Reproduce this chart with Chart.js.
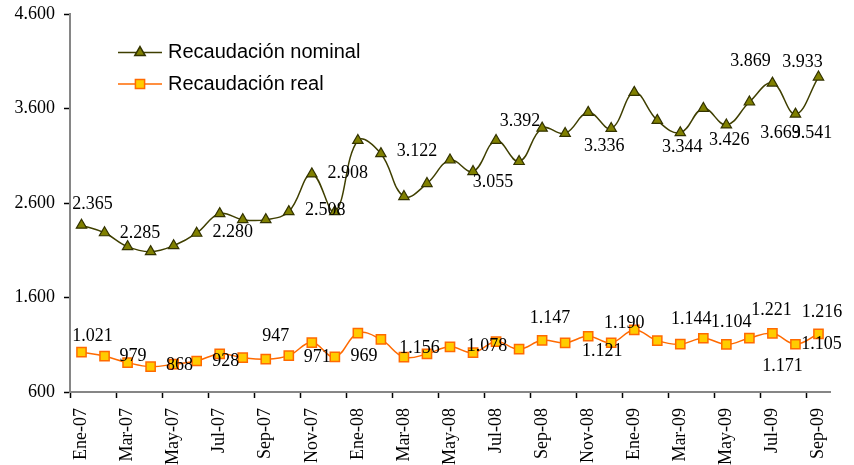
<!DOCTYPE html>
<html>
<head>
<meta charset="utf-8">
<script src="https://cdn.jsdelivr.net/npm/chart.js@4"></script>
<style>
  html, body { margin: 0; padding: 0; background: #fff; }
  #wrap { width: 854px; height: 465px; }
</style>
</head>
<body>
<div id="wrap"><canvas id="grafico" width="854" height="465"></canvas></div>
<script>
const meses = ['Ene-07', 'Feb-07', 'Mar-07', 'Abr-07', 'May-07', 'Jun-07', 'Jul-07', 'Ago-07', 'Sep-07', 'Oct-07', 'Nov-07', 'Dic-07',
    'Ene-08', 'Feb-08', 'Mar-08', 'Abr-08', 'May-08', 'Jun-08', 'Jul-08', 'Ago-08', 'Sep-08', 'Oct-08', 'Nov-08', 'Dic-08',
    'Ene-09', 'Feb-09', 'Mar-09', 'Abr-09', 'May-09', 'Jun-09', 'Jul-09', 'Ago-09', 'Sep-09'];

const nominal = [2365, 2285, 2138, 2085, 2148, 2280, 2488, 2424, 2424, 2509, 2908, 2508,
    3262, 3122, 2668, 2806, 3055, 2933, 3262, 3039, 3392, 3336, 3559, 3389,
    3771, 3474, 3344, 3601, 3426, 3669, 3869, 3541, 3933];

const real = [1021, 979, 911, 868, 894, 928, 1003, 964, 947, 985, 1123, 971,
    1222, 1156, 969, 1003, 1078, 1017, 1133, 1053, 1147, 1120, 1190, 1121,
    1257, 1144, 1106, 1169, 1104, 1171, 1221, 1105, 1216];

const ticksY = [600, 1600, 2600, 3600, 4600];

// puntos que llevan etiqueta de valor
const etiquetasNominal = [0, 1, 5, 10, 11, 13, 16, 20, 21, 26, 28, 29, 30, 31, 32];
const etiquetasReal = [0, 1, 3, 5, 8, 11, 13, 14, 16, 20, 22, 23, 25, 28, 29, 30, 31, 32];

// desplazamiento de cada etiqueta respecto a su punto (px)
const despNominal = [[11, -21], [35.5, 0], [36, -1], [36, -1], [-9.5, -1], [36, -2], [43, 22], [-22, -7],
    [39, 13], [2, 15], [3, 15], [31, 31], [-22, -22], [16.5, 19], [-16, -15]];
const despReal = [[11, -16], [28.5, 0], [29, -1], [29, 0], [10, -23], [-17.5, 0], [38.5, 9], [-40, -1],
    [37, -1], [8, -22], [36, -13], [-9, 8.5], [34, -21], [5, -22], [33, 28], [-1, -23], [26, 0], [3.5, -22]];

const fmt = (n) => String(n).replace(/\B(?=(\d{3})+(?!\d))/g, '.');

const colorNominal = '#3f3f00';
const colorReal = '#ff6a00';
const gris = '#868686';

const etiquetasPlugin = {
    id: 'etiquetas',
    afterDatasetsDraw(chart) {
        const ctx = chart.ctx;
        const x = chart.scales.x;
        const y = chart.scales.y;
        ctx.save();
        ctx.font = '18px "Liberation Serif", "Times New Roman", serif';
        ctx.fillStyle = '#000';
        ctx.textAlign = 'center';
        ctx.textBaseline = 'middle';
        const poner = (serie, idx, desp) => {
            idx.forEach((i, k) => {
                const px = x.getPixelForValue(i) + desp[k][0];
                const py = y.getPixelForValue(serie[i]) + desp[k][1];
                ctx.fillText(fmt(serie[i]), px, py);
            });
        };
        poner(nominal, etiquetasNominal, despNominal);
        poner(real, etiquetasReal, despReal);
        ctx.restore();
    }
};

const leyendaPlugin = {
    id: 'leyenda',
    afterDraw(chart) {
        const ctx = chart.ctx;
        const a = chart.chartArea;
        const items = [
            { texto: 'Recaudación nominal', linea: colorNominal, relleno: '#808000', borde: '#333300', estilo: 'triangle', r: 6 },
            { texto: 'Recaudación real', linea: colorReal, relleno: '#ffcc00', borde: colorReal, estilo: 'rect', r: 6.5 }
        ];
        ctx.save();
        items.forEach((it, k) => {
            const yy = a.top + 38.5 + k * 31.5;
            const x0 = a.left + 48;
            ctx.strokeStyle = it.linea;
            ctx.lineWidth = 1.5;
            ctx.beginPath();
            ctx.moveTo(x0, yy);
            ctx.lineTo(x0 + 44, yy);
            ctx.stroke();
            ctx.fillStyle = it.relleno;
            ctx.strokeStyle = it.borde;
            ctx.lineWidth = 1.5;
            Chart.helpers.drawPoint(ctx, { pointStyle: it.estilo, radius: it.r, rotation: 0, borderWidth: 1.5 }, x0 + 22, yy);
            ctx.fillStyle = '#000';
            ctx.font = '20px "Liberation Sans", Arial, sans-serif';
            ctx.textAlign = 'left';
            ctx.textBaseline = 'middle';
            ctx.fillText(it.texto, x0 + 50, yy);
        });
        ctx.restore();
    }
};

new Chart(document.getElementById('grafico'), {
    type: 'line',
    data: {
        labels: meses,
        datasets: [
            {
                label: 'Recaudación nominal',
                data: nominal,
                borderColor: colorNominal,
                borderWidth: 1.5,
                backgroundColor: '#808000',
                pointBackgroundColor: '#808000',
                pointBorderColor: '#333300',
                pointBorderWidth: 1.2,
                pointStyle: 'triangle',
                pointRadius: 6,
                tension: 0.4
            },
            {
                label: 'Recaudación real',
                data: real,
                borderColor: colorReal,
                borderWidth: 1.5,
                backgroundColor: '#ffcc00',
                pointBackgroundColor: '#ffcc00',
                pointBorderColor: colorReal,
                pointBorderWidth: 1.5,
                pointStyle: 'rect',
                pointRadius: 6.5,
                tension: 0.4
            }
        ]
    },
    options: {
        responsive: false,
        animation: false,
        layout: { padding: { top: 14, right: 24, bottom: 0, left: 0 } },
        plugins: {
            legend: { display: false },
            tooltip: { enabled: false }
        },
        scales: {
            x: {
                offset: true,
                afterFit: (s) => { s.height = 73; s.paddingLeft = 0; s.paddingRight = 0; },
                border: { display: true, color: gris, width: 2 },
                grid: {
                    offset: true,
                    drawOnChartArea: false,
                    drawTicks: true,
                    tickLength: 6,
                    tickWidth: 1.5,
                    tickColor: (c) => (c.index % 2 === 0 ? '#000' : 'rgba(0,0,0,0)')
                },
                ticks: {
                    autoSkip: false,
                    maxRotation: 90,
                    minRotation: 90,
                    padding: 10,
                    color: '#000',
                    font: { family: '"Liberation Serif", "Times New Roman", serif', size: 18 },
                    callback: (v, i) => (i % 2 === 0 ? meses[i] : '')
                }
            },
            y: {
                min: 600,
                max: 4600,
                afterFit: (s) => { s.width = 70; s.paddingTop = 0; s.paddingBottom = 0; },
                afterBuildTicks: (s) => { s.ticks = ticksY.map(v => ({ value: v })); },
                border: { display: true, color: gris, width: 2 },
                grid: {
                    drawOnChartArea: false,
                    drawTicks: true,
                    tickLength: 6,
                    tickWidth: 1.5,
                    tickColor: '#000'
                },
                ticks: {
                    padding: 9,
                    color: '#000',
                    font: { family: '"Liberation Serif", "Times New Roman", serif', size: 18 },
                    callback: (v) => fmt(v)
                }
            }
        }
    },
    plugins: [etiquetasPlugin, leyendaPlugin]
});
</script>
</body>
</html>
